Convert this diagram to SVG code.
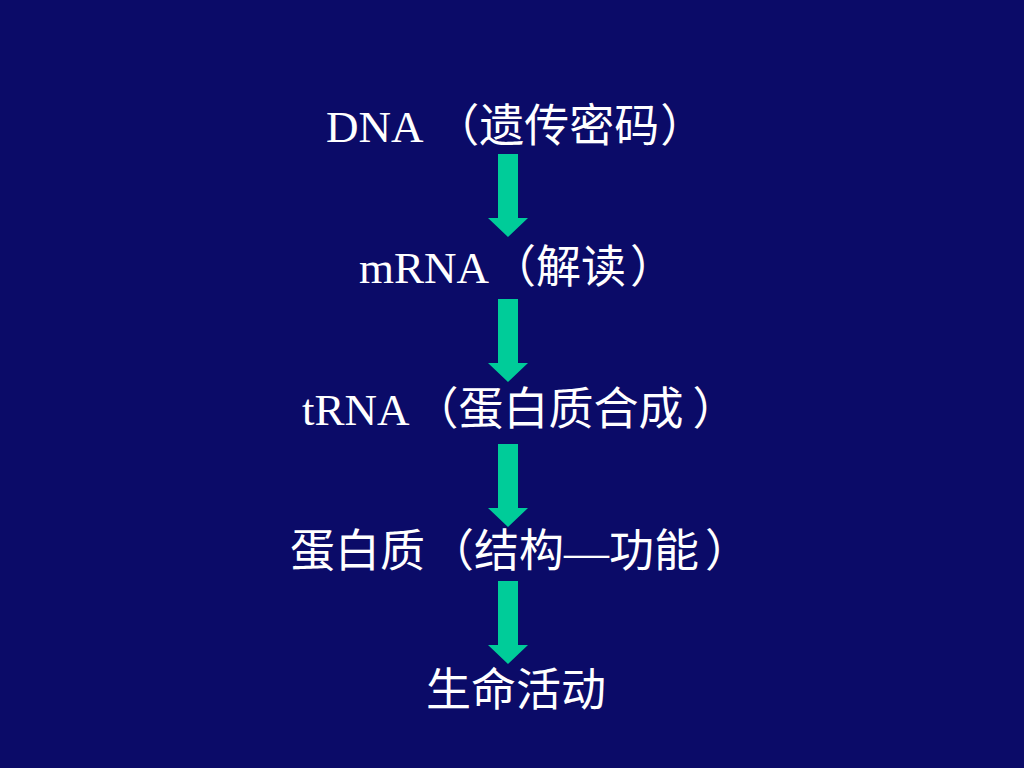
<svg xmlns="http://www.w3.org/2000/svg" width="1024" height="768" viewBox="0 0 1024 768">
<defs>
<style>
.lbl{font-family:"Liberation Serif","Noto Sans CJK SC",serif;font-size:45px;fill:#ffffff}
.arr{fill:#00cc99}
</style>
<path id="arrowShape" d="M-10,0 H10 V64 H20 L0,83 L-20,64 H-10 Z"/>
</defs>
<rect width="1024" height="768" fill="#0b0b68"/>
<g id="connectors">
<use href="#arrowShape" class="arr" x="508" y="154"/>
<use href="#arrowShape" class="arr" x="508" y="299"/>
<use href="#arrowShape" class="arr" x="508" y="444"/>
<use href="#arrowShape" class="arr" x="508" y="581"/>
</g>
<g id="node-dna"><text class="lbl" x="326" y="142">DNA <tspan dx="2">（遗传密码</tspan><tspan dx="1">）</tspan></text></g>
<g id="node-mrna"><text class="lbl" x="359" y="283">mRNA<tspan dx="2">（解读</tspan><tspan dx="4">）</tspan></text></g>
<g id="node-trna"><text class="lbl" x="302" y="425">tRNA<tspan dx="4">（蛋白质合成</tspan><tspan dx="9">）</tspan></text></g>
<g id="node-protein"><text class="lbl" x="290" y="567">蛋白质<tspan dx="4">（结构—功能</tspan><tspan dx="6">）</tspan></text></g>
<g id="node-life"><text class="lbl" x="426" y="706">生命活动</text></g>
</svg>
